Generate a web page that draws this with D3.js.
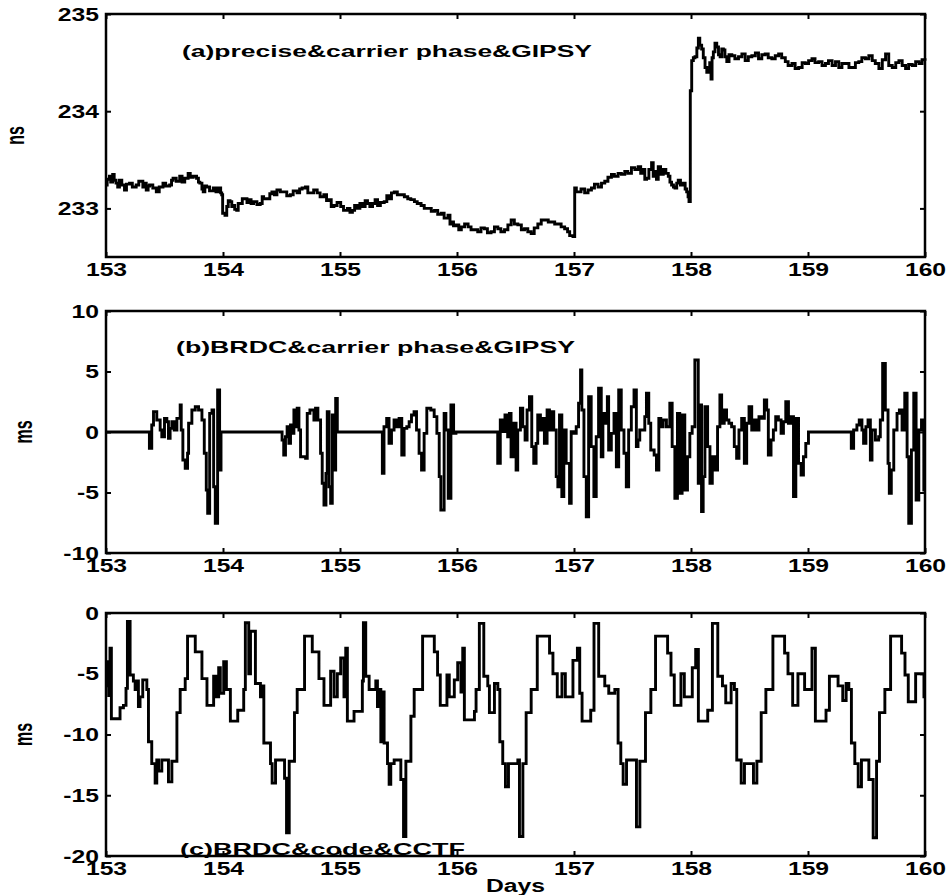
<!DOCTYPE html>
<html>
<head>
<meta charset="utf-8">
<script src="https://cdn.jsdelivr.net/npm/d3@7"></script>
<style>
  body { margin: 0; background: #fff; }
  svg { display: block; }
  text { font-family: "Liberation Sans", Arial, sans-serif; font-weight: bold; fill: #000; }
</style>
</head>
<body>
<div id="chart"></div>
<script>
// tick values
var dayTicks = [153, 154, 155, 156, 157, 158, 159, 160];
var nsTicks = [233, 234, 235];
var msTicksB = [-10, -5, 0, 5, 10];
var msTicksC = [-20, -15, -10, -5, 0];

// labels
var titles = ["(a)precise&carrier phase&GIPSY", "(b)BRDC&carrier phase&GIPSY", "(c)BRDC&code&CCTF"];
var yLabels = ["ns", "ms", "ms"];
var xLabel = "Days";

// (a) precise orbit, carrier phase, GIPSY  [day, ns]
var seriesA = [
  [153.000,233.24],[153.010,233.30],[153.029,233.33],[153.040,233.27],[153.057,233.35],[153.070,233.29],[153.086,233.26],
  [153.100,233.22],[153.115,233.29],[153.135,233.24],[153.158,233.19],[153.175,233.25],[153.201,233.26],[153.225,233.22],
  [153.258,233.24],[153.280,233.28],[153.315,233.22],[153.330,233.26],[153.344,233.19],[153.360,233.23],[153.372,233.24],
  [153.400,233.21],[153.430,233.17],[153.455,233.22],[153.487,233.26],[153.510,233.23],[153.544,233.24],[153.560,233.29],
  [153.573,233.31],[153.600,233.28],[153.630,233.33],[153.650,233.27],[153.673,233.31],[153.702,233.36],[153.720,233.32],
  [153.745,233.33],[153.774,233.31],[153.790,233.27],[153.802,233.26],[153.820,233.20],[153.831,233.17],[153.845,233.23],
  [153.860,233.22],[153.885,233.18],[153.917,233.21],[153.940,233.17],[153.960,233.21],[153.980,233.16],[153.989,233.14],
  [153.997,232.95],[154.017,232.93],[154.032,233.02],[154.045,233.08],[154.060,233.07],[154.075,233.02],[154.089,233.03],
  [154.100,232.99],[154.117,232.98],[154.130,233.05],[154.146,233.05],[154.165,233.10],[154.189,233.10],[154.205,233.06],
  [154.218,233.09],[154.240,233.05],[154.261,233.07],[154.290,233.04],[154.318,233.05],[154.335,233.12],[154.347,233.10],
  [154.375,233.10],[154.400,233.15],[154.418,233.17],[154.440,233.14],[154.461,233.19],[154.490,233.17],[154.519,233.17],
  [154.545,233.13],[154.576,233.14],[154.600,233.18],[154.633,233.16],[154.655,233.20],[154.676,233.21],[154.705,233.22],
  [154.725,233.16],[154.748,233.16],[154.775,233.19],[154.805,233.16],[154.830,233.12],[154.862,233.14],[154.885,233.08],
  [154.905,233.09],[154.925,233.02],[154.948,233.03],[154.975,233.06],[155.006,233.02],[155.030,232.98],[155.063,233.00],
  [155.085,232.96],[155.106,232.98],[155.125,233.03],[155.149,233.00],[155.170,233.05],[155.192,233.02],[155.215,233.08],
  [155.235,233.05],[155.255,233.02],[155.278,233.05],[155.300,233.09],[155.321,233.03],[155.345,233.06],[155.378,233.07],
  [155.400,233.13],[155.421,233.10],[155.440,233.16],[155.464,233.17],[155.490,233.14],[155.521,233.14],[155.550,233.12],
  [155.579,233.10],[155.605,233.09],[155.636,233.07],[155.660,233.05],[155.693,233.03],[155.720,233.00],[155.751,233.00],
  [155.780,232.97],[155.808,232.98],[155.835,232.94],[155.865,232.95],[155.890,232.90],[155.923,232.93],[155.940,232.84],
  [155.951,232.86],[155.970,232.82],[155.994,232.83],[156.015,232.78],[156.037,232.81],[156.065,232.84],[156.095,232.81],
  [156.120,232.78],[156.152,232.78],[156.177,232.76],[156.205,232.80],[156.234,232.79],[156.260,232.75],[156.291,232.76],
  [156.320,232.81],[156.349,232.79],[156.375,232.76],[156.406,232.78],[156.435,232.83],[156.463,232.88],[156.490,232.84],
  [156.520,232.83],[156.550,232.78],[156.577,232.79],[156.605,232.76],[156.634,232.74],[156.660,232.80],[156.691,232.84],
  [156.720,232.88],[156.749,232.88],[156.780,232.86],[156.806,232.86],[156.835,232.84],[156.863,232.84],[156.890,232.81],
  [156.920,232.79],[156.945,232.76],[156.963,232.72],[156.991,232.71],[157.006,233.21],[157.020,233.17],[157.034,233.17],
  [157.060,233.20],[157.091,233.16],[157.120,233.19],[157.149,233.21],[157.175,233.25],[157.206,233.22],[157.235,233.26],
  [157.263,233.28],[157.290,233.32],[157.320,233.35],[157.345,233.33],[157.377,233.36],[157.405,233.35],[157.434,233.38],
  [157.460,233.36],[157.491,233.42],[157.520,233.40],[157.549,233.43],[157.570,233.36],[157.591,233.40],[157.605,233.30],
  [157.620,233.31],[157.640,233.40],[157.663,233.47],[157.677,233.33],[157.691,233.38],[157.705,233.30],[157.720,233.43],
  [157.740,233.35],[157.763,233.40],[157.785,233.36],[157.806,233.33],[157.820,233.27],[157.834,233.24],[157.850,233.22],
  [157.863,233.21],[157.878,233.26],[157.891,233.29],[157.910,233.24],[157.934,233.26],[157.950,233.20],[157.963,233.17],
  [157.975,233.12],[157.983,233.07],[157.994,234.21],[158.006,234.52],[158.020,234.55],[158.034,234.56],[158.050,234.65],
  [158.063,234.75],[158.075,234.68],[158.091,234.64],[158.105,234.55],[158.120,234.45],[158.135,234.40],[158.149,234.42],
  [158.160,234.50],[158.171,234.33],[158.180,234.55],[158.191,234.61],[158.205,234.70],[158.220,234.66],[158.235,234.58],
  [158.249,234.56],[158.263,234.64],[158.277,234.63],[158.290,234.56],[158.306,234.51],[158.325,234.58],[158.349,234.57],
  [158.375,234.54],[158.406,234.56],[158.435,234.59],[158.463,234.52],[158.490,234.56],[158.520,234.57],[158.550,234.60],
  [158.577,234.54],[158.605,234.58],[158.634,234.59],[158.660,234.55],[158.691,234.54],[158.720,234.57],[158.749,234.59],
  [158.775,234.55],[158.806,234.51],[158.830,234.47],[158.863,234.49],[158.890,234.44],[158.920,234.45],[158.950,234.50],
  [158.977,234.49],[159.005,234.52],[159.034,234.54],[159.060,234.50],[159.091,234.51],[159.120,234.47],[159.149,234.49],
  [159.175,234.52],[159.206,234.47],[159.235,234.51],[159.263,234.45],[159.290,234.49],[159.320,234.49],[159.350,234.45],
  [159.377,234.45],[159.405,234.50],[159.434,234.51],[159.460,234.55],[159.491,234.54],[159.520,234.57],[159.549,234.52],
  [159.575,234.49],[159.606,234.44],[159.635,234.53],[159.663,234.59],[159.690,234.47],[159.720,234.45],[159.750,234.50],
  [159.777,234.52],[159.805,234.47],[159.834,234.44],[159.860,234.48],[159.891,234.47],[159.920,234.51],[159.949,234.49],
  [159.975,234.53],[160.000,234.52]
];

// (b) broadcast orbit, carrier phase, GIPSY  [day, ms]
var seriesB = [
  [153.000,0],[153.371,-1.35],[153.391,0.58],[153.406,1.68],[153.434,0.99],[153.463,0.17],[153.477,-0.39],[153.500,1.13],
  [153.520,0.85],[153.534,-0.52],[153.548,0.30],[153.563,0.85],[153.583,0.17],[153.606,1.13],[153.634,2.23],[153.643,0.17],
  [153.657,-2.31],[153.677,-3.00],[153.697,-1.76],[153.706,0.72],[153.734,1.82],[153.763,2.09],[153.791,1.82],[153.820,0.99],
  [153.840,-1.76],[153.857,-4.79],[153.869,-6.72],[153.886,1.54],[153.906,1.82],[153.920,-4.52],[153.934,-7.55],[153.954,3.47],
  [153.971,-3.14],[153.983,0],
  [154.505,-0.66],[154.519,-1.90],[154.534,-0.39],[154.548,0.44],[154.563,-0.94],[154.577,0.58],[154.591,-0.11],[154.606,1.82],
  [154.620,0.44],[154.634,1.96],[154.649,0.17],[154.663,-2.04],[154.706,-2.18],[154.720,1.54],[154.743,1.82],[154.777,0.99],
  [154.791,1.96],[154.811,0.99],[154.834,-1.76],[154.848,-4.24],[154.863,-6.03],[154.880,-3.42],[154.891,1.68],[154.906,-4.52],
  [154.920,-5.90],[154.934,1.40],[154.948,-3.14],[154.963,2.78],[154.977,0],
  [155.362,-3.42],[155.376,0.44],[155.399,1.13],[155.419,-0.94],[155.440,0.17],[155.462,0.99],[155.485,0.44],[155.505,1.13],
  [155.528,-1.90],[155.548,0.30],[155.571,0.44],[155.591,0.85],[155.611,1.40],[155.633,1.68],[155.654,0.17],[155.676,-1.76],
  [155.697,-3.14],[155.719,-0.11],[155.742,1.96],[155.776,1.82],[155.805,1.27],[155.828,-0.11],[155.848,-3.69],[155.862,-6.45],
  [155.890,1.54],[155.905,0.17],[155.925,-5.48],[155.948,2.23],[155.971,-0.11],[155.991,0],
  [156.348,-2.59],[156.370,0.99],[156.390,0.03],[156.410,1.40],[156.433,-0.39],[156.448,1.54],[156.462,-2.04],[156.485,0.72],
  [156.505,-3.14],[156.519,0.17],[156.542,1.96],[156.562,0.44],[156.582,-0.66],[156.599,1.82],[156.619,2.92],[156.639,-1.21],
  [156.656,-2.59],[156.676,-0.94],[156.690,1.40],[156.713,0.17],[156.733,1.13],[156.747,-0.94],[156.770,1.82],[156.790,0.17],
  [156.805,1.68],[156.827,0.17],[156.848,-3.69],[156.862,-4.52],[156.876,1.40],[156.896,-5.34],[156.913,0.17],[156.933,-2.59],
  [156.962,-5.90],[156.976,0.03],[156.999,-0.11],[157.019,0.44],[157.039,2.37],[157.056,5.12],[157.067,1.82],[157.085,-3.69],
  [157.105,-7.00],[157.125,2.92],[157.147,-1.21],[157.170,-5.34],[157.190,-0.39],[157.210,3.61],[157.233,-2.04],[157.247,1.54],
  [157.262,0.72],[157.285,2.92],[157.296,-1.49],[157.319,-0.11],[157.342,1.54],[157.362,-2.87],[157.382,3.47],[157.404,0.17],
  [157.427,-1.76],[157.447,-4.52],[157.467,0.17],[157.490,2.09],[157.513,3.47],[157.533,-1.21],[157.547,-0.66],[157.562,0.17],
  [157.576,0.17],[157.605,1.27],[157.619,3.20],[157.639,0.72],[157.656,-1.49],[157.685,-1.90],[157.705,-3.14],[157.725,1.13],
  [157.742,0.44],[157.762,0.99],[157.790,0.44],[157.819,2.37],[157.839,-1.21],[157.862,-5.48],[157.884,1.54],[157.904,-5.07],
  [157.924,1.40],[157.947,-4.79],[157.970,-2.04],[157.990,-0.11],[158.010,0.44],[158.033,5.95],[158.062,-4.24],[158.076,2.23],
  [158.090,-6.58],[158.104,-3.69],[158.119,2.09],[158.142,-1.21],[158.162,-4.24],[158.182,-2.04],[158.204,-3.14],[158.227,0.44],
  [158.247,3.06],[158.262,0.72],[158.284,1.82],[158.304,0.99],[158.324,0.72],[158.347,0.44],[158.370,-1.21],[158.390,-2.18],
  [158.410,0.17],[158.433,1.13],[158.456,-2.59],[158.476,0.72],[158.496,2.09],[158.519,0.17],[158.541,0.99],[158.561,0.17],
  [158.581,1.27],[158.604,1.13],[158.627,2.64],[158.647,1.82],[158.661,-1.90],[158.684,-0.66],[158.704,0.17],[158.724,1.27],
  [158.747,0.99],[158.770,-0.11],[158.790,0.85],[158.810,2.51],[158.833,0.72],[158.856,1.27],[158.876,-5.34],[158.896,1.13],
  [158.919,-2.59],[158.941,-3.55],[158.961,-2.04],[158.981,-0.94],[159.004,0],
  [159.361,0],[159.370,-1.35],[159.390,0.17],[159.418,0.58],[159.438,0.99],[159.461,0.17],[159.475,-0.94],[159.495,0.44],
  [159.513,0.99],[159.533,-2.31],[159.547,0.17],[159.576,-0.66],[159.604,-0.39],[159.618,0.99],[159.638,5.67],[159.661,1.82],
  [159.684,-2.59],[159.695,-5.07],[159.712,-3.14],[159.733,0.17],[159.761,1.54],[159.781,1.82],[159.804,0.17],[159.827,3.20],
  [159.847,-2.04],[159.861,-7.55],[159.884,-1.49],[159.904,3.20],[159.924,-5.62],[159.947,0.17],[159.970,0.99],[159.990,-4.79],
  [160.000,-4.79]
];

// (c) broadcast orbit, code, CCTF  [day, ms]
var seriesC = [
  [153.000,-6.0],[153.011,-4.0],[153.023,-6.8],[153.034,-2.9],[153.046,-8.7],[153.120,-7.8],[153.149,-7.6],[153.171,-6.2],
  [153.183,-0.7],[153.206,-5.1],[153.234,-5.6],[153.249,-6.3],[153.263,-5.6],[153.277,-7.7],[153.291,-6.9],[153.314,-5.5],
  [153.349,-6.3],[153.363,-10.6],[153.391,-12.4],[153.420,-14.0],[153.434,-12.1],[153.449,-13.0],[153.477,-12.1],[153.534,-13.9],
  [153.563,-12.2],[153.606,-8.2],[153.634,-6.3],[153.677,-5.4],[153.697,-1.9],[153.763,-3.2],[153.820,-5.4],[153.863,-7.6],
  [153.920,-5.2],[153.943,-6.9],[153.963,-4.5],[153.977,-6.6],[154.006,-4.0],[154.029,-6.3],[154.063,-8.9],[154.126,-8.0],
  [154.177,-6.3],[154.191,-0.8],[154.220,-5.0],[154.235,-1.5],[154.249,-1.5],[154.277,-5.8],[154.320,-6.9],[154.334,-6.0],
  [154.349,-10.7],[154.406,-12.4],[154.420,-14.0],[154.449,-12.1],[154.526,-13.6],[154.543,-18.1],[154.566,-12.2],[154.611,-8.2],
  [154.634,-6.3],[154.697,-1.9],[154.763,-3.2],[154.820,-5.4],[154.863,-7.6],[154.920,-4.8],[154.949,-6.9],[154.977,-5.0],
  [155.006,-3.7],[155.034,-6.9],[155.049,-2.9],[155.063,-8.9],[155.120,-8.1],[155.191,-5.6],[155.200,-0.8],[155.220,-5.2],
  [155.249,-6.3],[155.306,-5.6],[155.320,-7.7],[155.334,-6.3],[155.349,-10.6],[155.363,-6.5],[155.377,-10.7],[155.406,-12.4],
  [155.420,-14.1],[155.434,-12.4],[155.463,-12.1],[155.520,-13.7],[155.543,-18.4],[155.563,-12.2],[155.606,-8.5],[155.634,-6.3],
  [155.706,-1.9],[155.806,-3.2],[155.834,-5.1],[155.857,-7.6],[155.914,-5.1],[155.934,-6.9],[155.977,-5.5],[156.006,-4.1],
  [156.034,-6.5],[156.049,-2.9],[156.063,-8.8],[156.149,-8.1],[156.163,-6.3],[156.191,-0.85],[156.229,-5.2],[156.263,-6.0],
  [156.277,-8.2],[156.320,-5.8],[156.349,-6.3],[156.366,-10.6],[156.391,-12.4],[156.414,-14.3],[156.440,-12.4],[156.520,-12.1],
  [156.534,-18.4],[156.563,-12.4],[156.591,-8.2],[156.634,-6.3],[156.686,-1.9],[156.791,-3.3],[156.820,-5.0],[156.857,-6.9],
  [156.897,-5.0],[156.926,-6.9],[156.991,-3.9],[157.029,-2.9],[157.049,-6.6],[157.069,-8.9],[157.143,-8.0],[157.171,-0.85],
  [157.211,-5.2],[157.263,-6.0],[157.297,-6.6],[157.349,-6.3],[157.377,-10.7],[157.400,-12.4],[157.420,-14.1],[157.449,-12.1],
  [157.534,-17.6],[157.563,-12.2],[157.611,-8.2],[157.657,-6.3],[157.697,-1.9],[157.800,-3.3],[157.829,-5.1],[157.857,-7.6],
  [157.914,-5.0],[157.943,-6.9],[158.011,-4.5],[158.040,-3.0],[158.063,-8.9],[158.143,-8.0],[158.183,-0.85],[158.229,-5.2],
  [158.269,-6.0],[158.297,-7.4],[158.343,-5.8],[158.371,-6.3],[158.391,-12.1],[158.429,-14.0],[158.457,-12.4],[158.534,-14.0],
  [158.563,-12.2],[158.600,-8.2],[158.640,-6.3],[158.700,-1.9],[158.800,-3.3],[158.829,-5.0],[158.869,-7.6],[158.914,-5.0],
  [158.971,-6.3],[159.034,-2.9],[159.063,-8.9],[159.154,-8.0],[159.183,-5.2],[159.257,-6.0],[159.297,-7.2],[159.326,-5.8],
  [159.349,-6.3],[159.371,-10.7],[159.400,-12.4],[159.429,-14.3],[159.457,-12.1],[159.520,-13.7],[159.557,-18.5],[159.586,-12.2],
  [159.611,-8.2],[159.657,-6.3],[159.706,-1.9],[159.800,-3.3],[159.829,-5.1],[159.857,-7.3],[159.920,-5.0],[159.963,-5.0],
  [159.991,-6.9],[160.000,-6.9]
];

var width = 951, height = 895;
var left = 106, right = 925;
var stretch = "scale(1.3,1)";
// plain hyphen for negative numbers, as in the original figure
var fmt = function(d) { return String(d); };

var svg = d3.select("#chart").append("svg")
  .attr("width", width)
  .attr("height", height);

svg.append("rect").attr("width", width).attr("height", height).attr("fill", "#fff");

var x = d3.scaleLinear().domain([153, 160]).range([left, right]);

var panels = [
  { top: 14, bottom: 257, domain: [232.5, 235], ticks: nsTicks, data: seriesA,
    title: titles[0], titleX: 182, titleY: 57, titleW: 410, ylab: yLabels[0], ylabX: 17 },
  { top: 311, bottom: 553, domain: [-10, 10], ticks: msTicksB, data: seriesB,
    title: titles[1], titleX: 176, titleY: 353, titleW: 399, ylab: yLabels[1], ylabX: 25 },
  { top: 613, bottom: 856, domain: [-20, 0], ticks: msTicksC, data: seriesC,
    title: titles[2], titleX: 180, titleY: 855, titleW: 285, ylab: yLabels[2], ylabX: 25 }
];

panels.forEach(function(p) {
  var y = d3.scaleLinear().domain(p.domain).range([p.bottom, p.top]);
  var g = svg.append("g");

  // data line (sampled clock solutions, drawn as steps)
  var line = d3.line()
    .x(function(d) { return x(d[0]); })
    .y(function(d) { return y(d[1]); })
    .curve(d3.curveStepAfter);

  g.append("path")
    .datum(p.data)
    .attr("fill", "none")
    .attr("stroke", "#000")
    .attr("stroke-width", 2.9)
    .attr("stroke-linejoin", "miter")
    .attr("d", line);

  // axes, ticks pointing inward on all four sides
  var bottom = g.append("g")
    .attr("transform", "translate(0," + p.bottom + ")")
    .call(d3.axisBottom(x).tickValues(dayTicks).tickSizeInner(-5).tickSizeOuter(0).tickPadding(6).tickFormat(fmt));
  var top = g.append("g")
    .attr("transform", "translate(0," + p.top + ")")
    .call(d3.axisTop(x).tickValues(dayTicks).tickSizeInner(-5).tickSizeOuter(0).tickFormat(""));
  var leftAx = g.append("g")
    .attr("transform", "translate(" + left + ",0)")
    .call(d3.axisLeft(y).tickValues(p.ticks).tickSizeInner(-5).tickSizeOuter(0).tickPadding(5.4).tickFormat(fmt));
  var rightAx = g.append("g")
    .attr("transform", "translate(" + right + ",0)")
    .call(d3.axisRight(y).tickValues(p.ticks).tickSizeInner(-5).tickSizeOuter(0).tickFormat(""));

  [bottom, top, leftAx, rightAx].forEach(function(a) {
    a.select(".domain").remove();
    a.selectAll("line").attr("stroke", "#000").attr("stroke-width", 2);
    a.selectAll("text")
      .attr("font-family", null)
      .attr("font-size", null)
      .style("font-size", "19px")
      .attr("transform", stretch);
  });

  // frame
  g.append("rect")
    .attr("x", left)
    .attr("y", p.top)
    .attr("width", right - left)
    .attr("height", p.bottom - p.top)
    .attr("fill", "none")
    .attr("stroke", "#000")
    .attr("stroke-width", 2.5);

  // panel title
  g.append("text")
    .attr("x", p.titleX)
    .attr("y", p.titleY)
    .attr("textLength", p.titleW)
    .attr("lengthAdjust", "spacingAndGlyphs")
    .style("font-size", "17px")
    .text(p.title);

  // y label
  g.append("text")
    .attr("transform", "translate(" + p.ylabX + "," + (p.top + p.bottom) / 2 + ") rotate(-90) scale(1,1.6)")
    .attr("text-anchor", "middle")
    .attr("dy", "0.26em")
    .style("font-size", "16px")
    .text(p.ylab);
});

svg.append("text")
  .attr("transform", "translate(" + (left + right) / 2 + ",892) " + stretch)
  .attr("text-anchor", "middle")
  .style("font-size", "19px")
  .text(xLabel);
</script>
</body>
</html>
